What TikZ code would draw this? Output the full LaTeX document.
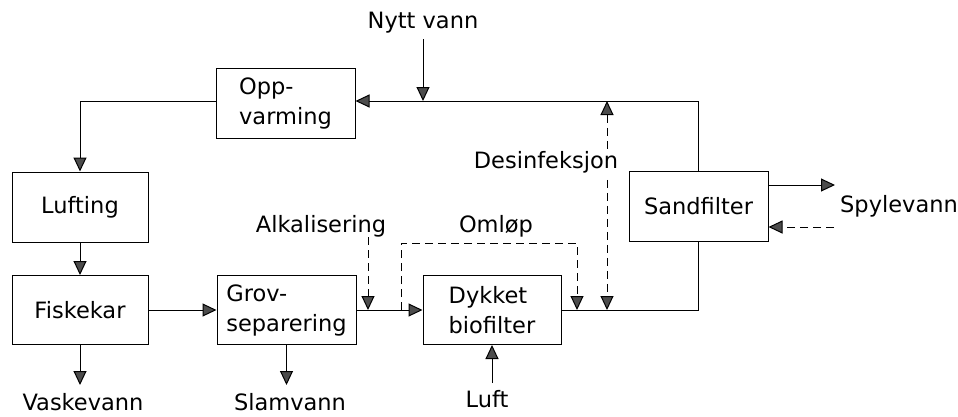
\documentclass[tikz,border=0pt]{standalone}
\usepackage{fontspec}
\setmainfont{DejaVu Sans}
\usetikzlibrary{arrows.meta}
\tikzset{
  lbl/.style={font=\fontsize{22.5}{30}\selectfont, inner sep=0pt},
  box/.style={draw, line width=1pt, inner sep=0pt, align=left,
    font=\fontsize{22.5}{30}\selectfont},
  ln/.style={line width=1pt},
  arr/.style={ln, -{Triangle[length=14pt,width=13pt,fill=black!70]}},
  darr/.style={arr, dash pattern=on 8pt off 5pt},
  dbarr/.style={ln, dash pattern=on 8pt off 5pt,
    {Triangle[length=14pt,width=13pt,fill=black!70]}-{Triangle[length=14pt,width=13pt,fill=black!70]}},
}
\begin{document}
\begin{tikzpicture}[x=1pt,y=-1pt]
\useasboundingbox (0,0) rectangle (958,416);
% boxes
\node[box, minimum width=139pt, minimum height=70pt] (opp) at (285.5,103) {Opp-\\varming};
\node[box, minimum width=136pt, minimum height=70pt] (luf) at (80,207) {Lufting};
\node[box, minimum width=136pt, minimum height=69pt] (fisk) at (80,310) {Fiskekar};
\node[box, minimum width=139pt, minimum height=69pt] (grov) at (286.5,310) {Grov-\\separering};
\node[box, minimum width=138pt, minimum height=69pt] (dyk) at (492,310) {Dykket\\biofilter};
\node[box, minimum width=139pt, minimum height=70pt] (sand) at (698.5,206) {Sandfilter};
% labels
\node[lbl, anchor=base] (nytt) at (423,28) {Nytt vann};
\node[lbl, anchor=base] (vask) at (83,410) {Vaskevann};
\node[lbl, anchor=base] (slam) at (290,410) {Slamvann};
\node[lbl, anchor=base] (luft) at (487,407) {Luft};
\node[lbl, anchor=base] (alk) at (321,232) {Alkalisering};
\node[lbl, anchor=base] (oml) at (496,232) {Omløp};
\node[lbl, anchor=base west] (spy) at (840,212) {Spylevann};
% coordinates
\coordinate (tr) at (698.5,101);
\coordinate (jn) at (423,101);
\coordinate (nyttend) at (423,39);
\coordinate (tl) at (80,101);
\coordinate (vaskend) at (80,385);
\coordinate (slamend) at (286.5,385);
\coordinate (luftend) at (492,383);
\coordinate (alkend) at (368,237);
\coordinate (alktip) at (368,310);
\coordinate (omla) at (401,310);
\coordinate (omlb) at (577,243);
\coordinate (omltip) at (577,310);
\coordinate (desa) at (607,101);
\coordinate (desb) at (607,310);
\coordinate (br) at (698.5,310);
\coordinate (spyend) at (835,185);
\coordinate (spyret) at (834,227);
% connectors
\draw[ln] (sand.north) -- (tr) -- (jn);
\draw[arr] (jn) -- (opp.east |- jn);
\draw[arr] (nyttend) -- (jn);
\draw[arr] (opp.west |- tl) -- (tl) -- (luf.north);
\draw[arr] (luf.south) -- (fisk.north);
\draw[arr] (fisk.south) -- (vaskend);
\draw[arr] (fisk.east) -- (grov.west);
\draw[arr] (grov.south) -- (slamend);
\draw[arr] (grov.east) -- (dyk.west);
\draw[arr] (luftend) -- (dyk.south);
\draw[darr] (alkend) -- (alktip);
\draw[darr] (omla) |- (omlb) -- (omltip);
\draw[ln] (dyk.east) -- (br) -- (sand.south);
\draw[dbarr] (desa) -- (desb);
\node[lbl, anchor=base, fill=white, inner ysep=2pt] (des) at (546,168) {Desinfeksjon};
\draw[arr] (sand.east |- spyend) -- (spyend);
\draw[darr] (spyret) -- (sand.east |- spyret);
\end{tikzpicture}
\end{document}
